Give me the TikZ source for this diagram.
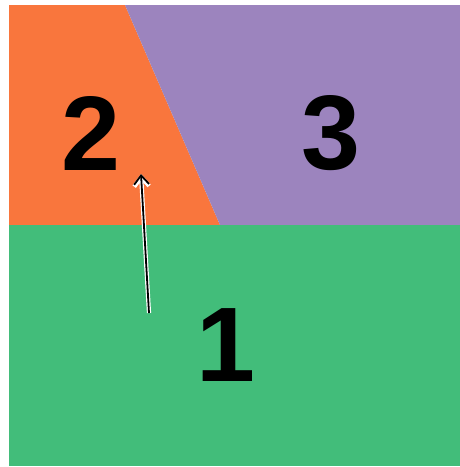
\documentclass[tikz,border=0pt]{standalone}
\usepackage{fontspec}
\setmainfont{Liberation Sans}
\definecolor{regorange}{RGB}{249,118,61}
\definecolor{regpurple}{RGB}{156,132,190}
\definecolor{reggreen}{RGB}{66,189,122}
\usetikzlibrary{arrows.meta}

\begin{document}
\begin{tikzpicture}[
    x=1pt, y=-1pt,
    numlabel/.style={inner sep=0pt, font=\fontsize{106}{106}\selectfont\bfseries},
    halo/.style={white, line width=4.2pt, -{Straight Barb[length=9pt, width=15pt, line width=4.2pt]}},
    pointer/.style={black, line width=1.8pt, -{Straight Barb[length=9pt, width=15pt, line width=1.8pt]}},
  ]
    \useasboundingbox (0,0) rectangle (460,467);
    % regions
    \fill[regorange] (9,5) -- (125,5) -- (220,225) -- (9,225) -- cycle;
    \fill[regpurple] (125,5) -- (460,5) -- (460,225) -- (220,225) -- cycle;
    \fill[reggreen] (9,225) rectangle (460,466);
    % labels
    \node[numlabel] (lab2) at (91,133) {2};
    \node[numlabel] (lab3) at (331,133) {3};
    \node[numlabel] (lab1) at (226,345) {1};
    % arrow
    \coordinate (tail) at (149,313);
    \coordinate (tip) at (141,174);
    \draw[halo] (tail) -- (tip);
    \draw[pointer] (tail) -- (tip);
  \end{tikzpicture}
\end{document}
